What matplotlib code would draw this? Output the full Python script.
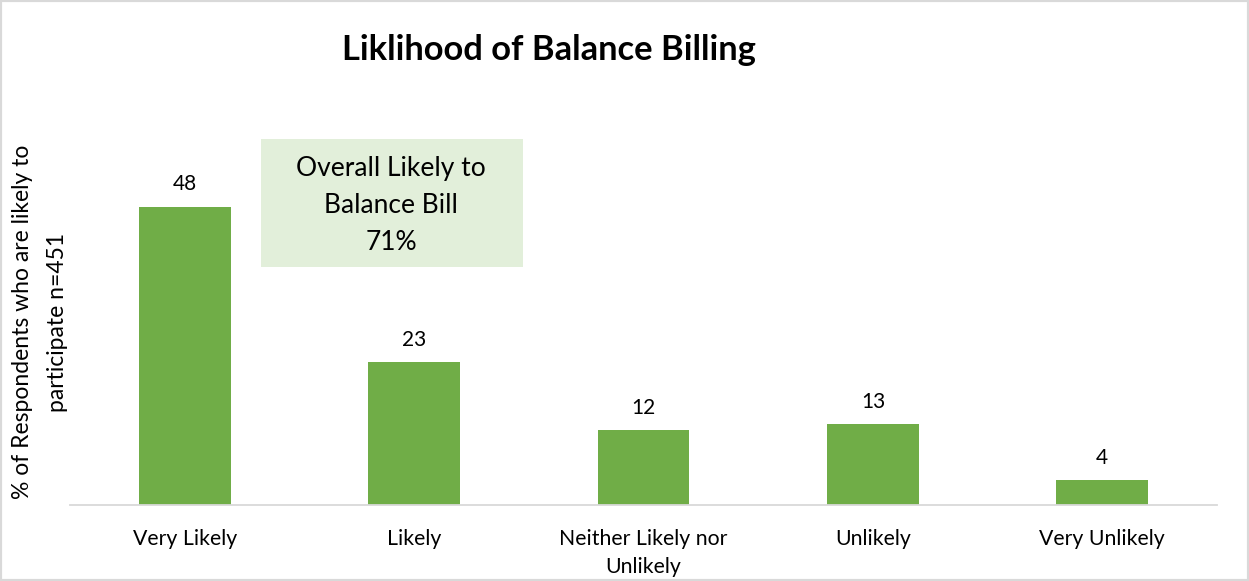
import matplotlib
matplotlib.use("Agg")
import matplotlib.pyplot as plt
import matplotlib.patches as patches

# datos del grafico
categories = ["Very Likely", "Likely", "Neither Likely nor\nUnlikely", "Unlikely", "Very Unlikely"]
values = [48, 23, 12, 13, 4]
overall_text = "Overall Likely to\nBalance Bill\n71%"
title = "Liklihood of Balance Billing"
ylabel = "% of Respondents who are likely to\nparticipate n=451"

plt.rcParams['font.family'] = ['Lato', 'DejaVu Sans']

fig = plt.figure(figsize=(12.49, 5.81), dpi=100)
ax = fig.add_axes([70 / 1249, 76 / 581, 1147 / 1249, 372.6 / 581])

x = range(len(categories))
bars = ax.bar(x, values, width=0.4, color='#70AD47')

# etiquetas encima de cada barra
for xi, v in zip(x, values):
    ax.annotate(str(v), (xi, v), xytext=(0, 9), textcoords='offset points',
                ha='center', va='bottom', fontsize=15, color='black')

ax.set_xlim(-0.5, len(categories) - 0.5)
ax.set_ylim(0, 60)
ax.set_xticks(list(x))
ax.set_xticklabels(categories, fontsize=15.3, linespacing=1.55)
ax.tick_params(axis='x', length=0, pad=17)
ax.set_yticks([])

for side in ['top', 'right', 'left']:
    ax.spines[side].set_visible(False)
ax.spines['bottom'].set_color('#D9D9D9')
ax.spines['bottom'].set_linewidth(1.3)

# cuadro de texto verde
box = patches.Rectangle((261 / 1249, (581 - 267) / 581), 262 / 1249, 128 / 581,
                        transform=fig.transFigure, facecolor='#E2EFDA', edgecolor='none', zorder=0)
fig.patches.append(box)
fig.text(391 / 1249, 1 - 205 / 581, overall_text, ha='center', va='center',
         fontsize=19, linespacing=1.6)

fig.text(549 / 1249, 1 - 50 / 581, title, ha='center', va='center',
         fontsize=24.8, fontweight='bold')
fig.text(40 / 1249, 1 - 322 / 581, ylabel, ha='center', va='center',
         rotation=90, fontsize=16.5, linespacing=1.85)

# borde gris de la figura
border = patches.Rectangle((0, 0), 1, 1, transform=fig.transFigure, fill=False,
                           edgecolor='#D9D9D9', linewidth=3)
fig.patches.append(border)

fig.savefig("out.png", dpi=100)
